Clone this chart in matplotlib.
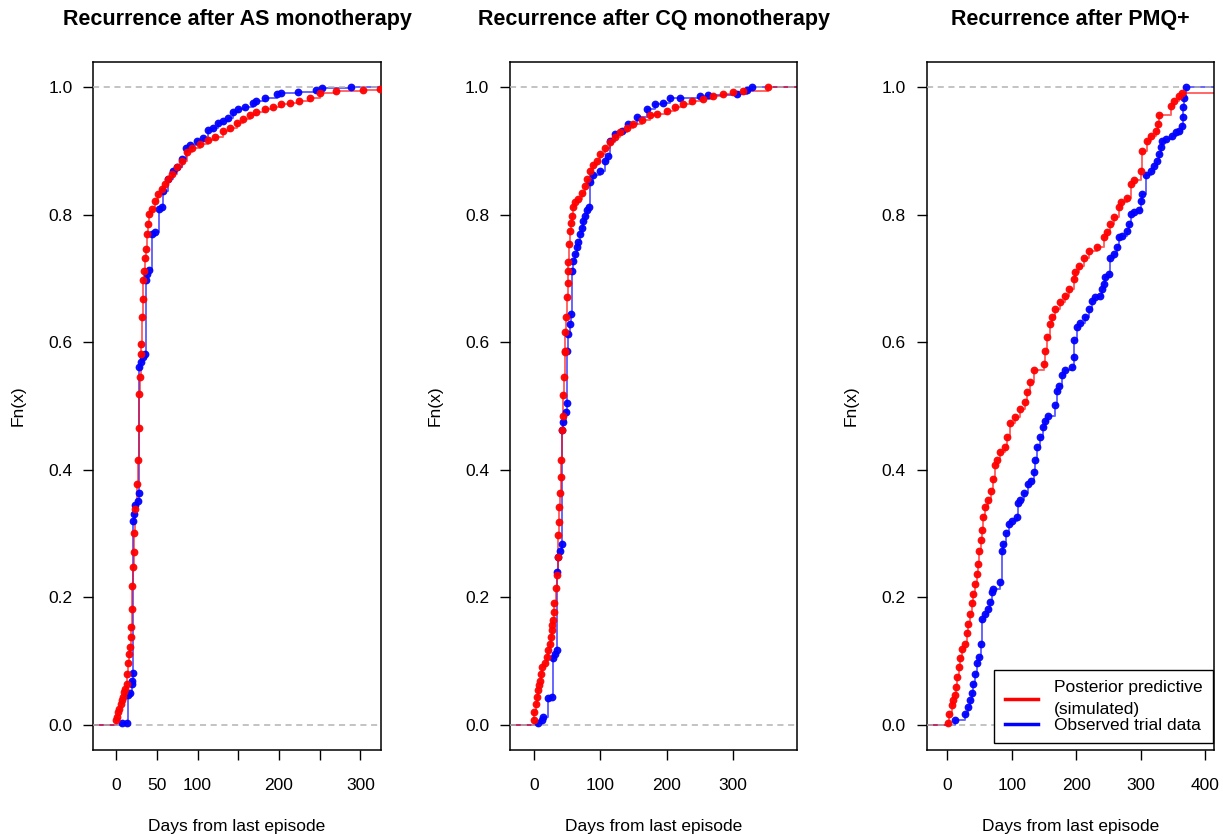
import numpy as np
import matplotlib
matplotlib.use('Agg')
import matplotlib.pyplot as plt
from matplotlib.lines import Line2D

plt.rcParams['font.family'] = ['Liberation Sans', 'DejaVu Sans']

# ------------------------------------------------------------
# ECDF knots: (days, Fn)
# ------------------------------------------------------------
as_sim = [(0, .007), (0.8, .012), (2.9, .020), (4.1, .025), (5.7, .033), (6.9, .038),
          (9.0, .043), (10.2, .051), (11.0, .056), (13.1, .064), (13.9, .080), (15.1, .096),
          (16.3, .111), (17.2, .122), (18.0, .137), (18.4, .153), (19.2, .182), (20.0, .218),
          (21.2, .247), (21.7, .271), (22.4, .300), (23.3, .339), (25.3, .378), (27.3, .415),
          (27.8, .465), (28.6, .519), (29.4, .546), (30.6, .582), (30.8, .598), (31.5, .639),
          (32.7, .668), (33.5, .697), (34.3, .712), (35.5, .733), (36.8, .747), (37.6, .770),
          (38.8, .786), (40.8, .801), (43.7, .809), (47.8, .822), (51.8, .833), (56, .841),
          (60, .848), (64.1, .856), (68.2, .864), (74.4, .875), (80.5, .885), (86.6, .898),
          (92.7, .905), (103, .912), (113, .917), (121, .923), (131.5, .931), (140, .937),
          (148, .944), (156, .950), (164, .956), (172, .961), (183, .966), (193, .970),
          (203, .974), (213, .976), (225, .979), (238, .984), (250, .991), (270, .994),
          (303, .996), (324, .997)]

as_obs = [(6.9, .002), (13.1, .003), (15.1, .046), (17.2, .049), (19.2, .064), (20.0, .069),
          (20.4, .081), (21.0, .320), (22.0, .331), (23.7, .344), (26.6, .351), (27.5, .363),
          (28.2, .561), (30.2, .569), (32.7, .577), (35.5, .582), (37.0, .697), (37.6, .707),
          (40.8, .714), (43.7, .770), (47.8, .773), (53.0, .809), (56.0, .812), (57.2, .838),
          (64.0, .856), (70.2, .869), (75.1, .875), (80.5, .888), (85.8, .905), (90.7, .910),
          (98.9, .916), (107, .921), (113, .933), (118.5, .937), (125.4, .944), (131.5, .948),
          (137.6, .952), (143, .962), (150, .966), (158, .969), (168, .976), (172.4, .979),
          (182.6, .983), (197.7, .989), (203, .991), (223.4, .993), (246, .996), (253, .999),
          (289, 1.0)]

cq_sim = [(0, .007), (0.5, .020), (2.5, .033), (4, .043), (5.5, .054), (7.5, .062), (9, .069),
          (10.6, .080), (12.6, .090), (16.6, .096), (19.1, .106), (21.6, .117), (24.1, .127),
          (25.6, .137), (26.6, .148), (27.6, .156), (29.2, .164), (30.2, .177), (30.7, .190),
          (32.7, .215), (34.2, .234), (35.7, .263), (36.7, .297), (37.7, .318), (38.2, .341),
          (39.2, .363), (40.2, .388), (40.7, .416), (41.8, .463), (43.3, .485), (44.2, .518),
          (45.2, .546), (46.8, .584), (47.0, .587), (47.5, .616), (48.3, .639), (49.3, .671),
          (50.8, .693), (51.8, .712), (52.0, .726), (53.3, .754), (54.3, .775), (55.3, .787),
          (56.8, .799), (58.3, .812), (61.8, .820), (66.9, .825), (71.9, .835), (76.9, .846),
          (80.4, .856), (84.5, .869), (89.5, .879), (94.6, .885), (99.5, .896), (107, .905),
          (114.6, .914), (122, .923), (129.7, .930), (139.8, .937), (149.8, .943), (162.4, .949),
          (175, .956), (185, .958), (200, .963), (212.7, .969), (225, .974), (237.9, .978),
          (255.4, .982), (270.5, .986), (285.5, .990), (300.6, .993), (315.7, .995), (353.4, 1.0)]

cq_obs = [(6.5, .003), (11.6, .007), (14, .012), (21.6, .041), (26.6, .043), (29.2, .104),
          (31.7, .111), (34.2, .117), (34.5, .239), (36.7, .263), (39.2, .273), (41.8, .284),
          (42.5, .462), (44.2, .475), (47.8, .490), (50.3, .504), (50.5, .587), (51.8, .613),
          (54.3, .629), (55.3, .645), (56.8, .712), (59.3, .728), (61.8, .739), (64.4, .749),
          (66.9, .757), (69.4, .770), (71.9, .780), (74.4, .791), (76.9, .799), (80.4, .807),
          (83.4, .812), (84.5, .851), (89.5, .862), (99.5, .869), (107, .885), (112, .893),
          (114.6, .916), (122.2, .927), (132.3, .932), (142.2, .943), (155, .953), (170, .966),
          (182.5, .974), (195, .976), (205, .983), (220, .984), (250.4, .987), (263, .988),
          (306, .990), (320.8, .996), (328, 1.0)]

pmq_sim = [(1.6, .002), (3.1, .017), (6.8, .030), (9.3, .038), (12, .046), (13.5, .059),
           (15.6, .075), (18.2, .090), (19.8, .104), (23.3, .119), (27.5, .127), (30.2, .143),
           (32.7, .158), (35.3, .174), (38, .190), (40.5, .205), (43.1, .221), (45.8, .237),
           (48.2, .252), (49.8, .273), (52, .289), (53.5, .305), (56, .326), (58.7, .341),
           (63.8, .352), (67.5, .367), (71.6, .386), (74.2, .407), (76.9, .415), (82, .428),
           (89.8, .435), (93.4, .451), (97.6, .474), (105.4, .482), (113.2, .495), (121, .506),
           (123.6, .522), (128.7, .537), (133.9, .556), (149.4, .566), (152, .587), (154.7, .608),
           (158.8, .629), (162.5, .639), (167.6, .652), (175.4, .663), (183.2, .673), (188.3, .684),
           (196.1, .699), (198.8, .710), (203.9, .720), (211.7, .733), (219.5, .744), (232.5, .749),
           (242.8, .765), (248.1, .773), (253.2, .786), (258.4, .796), (266.2, .812), (268.8, .820),
           (279.2, .827), (284.4, .848), (289.5, .854), (300, .869), (302.6, .901), (310.4, .916),
           (315.5, .924), (323.3, .932), (326.9, .943), (328.4, .956), (346.6, .971), (351.8, .979),
           (359.5, .987), (364.8, .992)]

pmq_obs = [(12, .007), (27.5, .017), (32.7, .028), (35.3, .038), (38, .049), (40.5, .064),
           (43.1, .080), (45.8, .096), (49.8, .106), (52, .127), (54.5, .166), (58.7, .174),
           (63.8, .182), (66.5, .192), (69.1, .208), (71.6, .213), (82, .224), (84.7, .273),
           (87.2, .284), (91.4, .300), (95, .315), (100.2, .320), (108, .326), (110.5, .347),
           (113.2, .352), (118.3, .363), (124.5, .378), (129.8, .383), (133.9, .396), (136.5, .415),
           (139.1, .435), (143.2, .451), (148.5, .467), (152, .477), (155.6, .485), (167.6, .501),
           (170.3, .524), (172.8, .532), (178, .548), (183.2, .556), (193.6, .561), (196.1, .577),
           (197.2, .603), (201.4, .624), (206.5, .631), (214.3, .639), (219.5, .652), (224.7, .665),
           (229.9, .671), (237.7, .673), (240.3, .684), (242.8, .692), (245.4, .702), (250.6, .707),
           (253.2, .733), (258.4, .739), (263.6, .749), (266.2, .765), (271.4, .767), (279.2, .775),
           (281.8, .786), (284.4, .801), (289.5, .804), (297.3, .807), (300, .822), (302.6, .833),
           (307.7, .862), (315.5, .869), (320.6, .877), (325.9, .885), (328.4, .896), (331, .906),
           (333.7, .916), (338.8, .919), (349.3, .924), (354.4, .930), (359.5, .932), (364.8, .940),
           (365.8, .953), (366.5, .969), (367.3, .984), (370, 1.0)]

titles = ['Recurrence after AS monotherapy', 'Recurrence after CQ monotherapy',
          'Recurrence after PMQ+']
xticks = [[0, 50, 100, 150, 200, 250, 300], [0, 100, 200, 300], [0, 100, 200, 300, 400]]
xticklabels = [['0', '50', '100', '', '200', '', '300'], ['0', '100', '200', '300'],
               ['0', '100', '200', '300', '400']]
xlims = [(-28, 325), (-36, 397), (-32, 414)]
series = [(as_sim, as_obs), (cq_sim, cq_obs), (pmq_sim, pmq_obs)]

RED = '#FF0000'
BLUE = '#0000FF'
GREY = '#B3B3B3'

fig = plt.figure(figsize=(12.23, 8.34), dpi=100)
lefts = [0.0763, 0.4170, 0.7577]
W, B, H = 0.2350, 0.1007, 0.8250

axes = []
for i in range(3):
    ax = fig.add_axes([lefts[i], B, W, H])
    axes.append(ax)
    x0, x1 = xlims[i]
    sim, obs = series[i]
    for data, col in [(obs, BLUE), (sim, RED)]:
        d = np.array([p[0] for p in data])
        f = np.array([p[1] for p in data])
        # step function, extended to the plot edges
        ax.step(np.r_[x0, d, x1], np.r_[0, f, f[-1]], where='post',
                color=col, lw=1.4, alpha=0.6, zorder=2)
        ax.plot(d, f, 'o', color=col, ms=5.6, mew=0, alpha=0.95, zorder=4)
    ax.axhline(0, color=GREY, ls=(0, (4, 3)), lw=1.1, zorder=3)
    ax.axhline(1, color=GREY, ls=(0, (4, 3)), lw=1.1, zorder=3)

    ax.set_xlim(x0, x1)
    ax.set_ylim(-0.04, 1.04)
    ax.set_xticks(xticks[i])
    ax.set_xticklabels(xticklabels[i])
    ax.set_yticks([0, 0.2, 0.4, 0.6, 0.8, 1.0])
    ax.set_yticklabels(['0.0', '0.2', '0.4', '0.6', '0.8', '1.0'])
    ax.tick_params(direction='out', length=7, width=1, labelsize=12.5, colors='black')
    ax.tick_params(axis='x', pad=13)
    ax.tick_params(axis='y', pad=8)
    for s in ax.spines.values():
        s.set_linewidth(1.1)
        s.set_color('black')

    ax.text(0.5, 1.061, titles[i], transform=ax.transAxes, ha='center', va='center',
            fontsize=15.5, fontweight='bold')
    ax.set_xlabel('Days from last episode', fontsize=12.5)
    ax.xaxis.set_label_coords(0.5, -0.1)
    ax.set_ylabel('Fn(x)', fontsize=12.5)
    ax.yaxis.set_label_coords(-0.236, 0.5)

handles = [Line2D([], [], color=RED, lw=2.5), Line2D([], [], color=BLUE, lw=2.5)]
labels = ['Posterior predictive\n(simulated)', 'Observed trial data']
leg = axes[2].legend(handles, labels, loc='lower right', bbox_to_anchor=(0.9965, 0.0102),
                     borderaxespad=0, fancybox=False, edgecolor='black', framealpha=1,
                     fontsize=12.5, handlelength=1.9, handletextpad=0.95,
                     labelspacing=0.0, borderpad=0.6)
for t in leg.get_texts():
    t.set_linespacing(1.6)
leg.get_frame().set_linewidth(1.0)

fig.savefig('out.png', dpi=100)
